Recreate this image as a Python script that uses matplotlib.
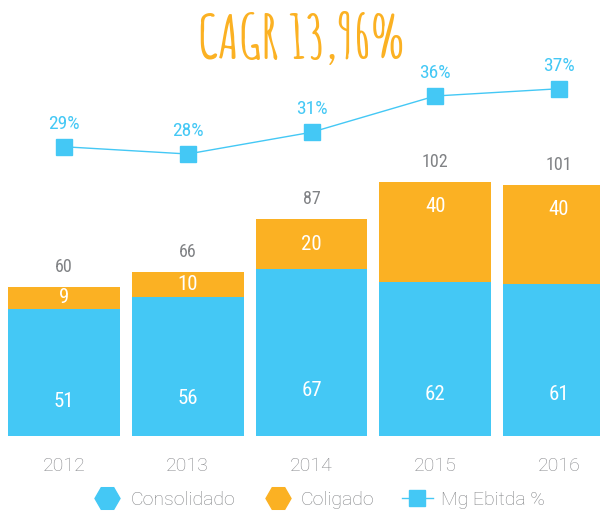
import matplotlib
matplotlib.use("Agg")
import matplotlib.pyplot as plt
from matplotlib.lines import Line2D
import numpy as np

years = ["2012", "2013", "2014", "2015", "2016"]
consolidado = [51, 56, 67, 62, 61]
coligado = [9, 10, 20, 40, 40]
totals = [60, 66, 87, 102, 101]
mg_ebitda = [29, 28, 31, 36, 37]
title = "CAGR 13,96%"

BLUE = "#44C8F5"
ORANGE = "#FBB123"
GREY = "#808285"

plt.rcParams['font.family'] = ['Roboto', 'DejaVu Sans']
COND = ['Roboto Condensed', 'Roboto', 'DejaVu Sans']

fig = plt.figure(figsize=(6, 5.12), dpi=100)
ax = fig.add_axes([0, 76/512, 1, 436/512])
x = np.arange(len(years))
w = 0.905
ax.bar(x, consolidado, w, color=BLUE, zorder=2)
ax.bar(x, coligado, w, bottom=consolidado, color=ORANGE, zorder=2)
ax.set_xlim(-64/123.75, (600-64)/123.75)
ax.set_ylim(0, 436/2.49)
for s in ax.spines.values():
    s.set_visible(False)
ax.set_yticks([])
ax.set_xticks(x)
ax.set_xticklabels(years, color="#85868a", fontsize=14, family=['Roboto', 'DejaVu Sans'], fontweight='light')
ax.tick_params(axis='x', length=0, pad=15)

for i in range(len(years)):
    c = consolidado[i]
    g = coligado[i]
    ax.text(x[i], c*0.27, str(c), ha='center', va='center', color='white', fontsize=15, zorder=3, family=COND)
    ax.text(x[i], c + g - min(g/2, 10), str(g), ha='center', va='center', color='white', fontsize=15, zorder=3, family=COND)
    ax.annotate(str(totals[i]), (x[i], c + g), xytext=(0, 20*0.72), textcoords='offset points',
                ha='center', va='center', color=GREY, fontsize=13, family=COND)

ax2 = ax.twinx()
ax2.set_ylim((357-436)/7.25, 357/7.25)
ax2.plot(x, mg_ebitda, color=BLUE, lw=1, marker='s', markersize=12, zorder=3)
for s in ax2.spines.values():
    s.set_visible(False)
ax2.set_yticks([])
for i in range(len(years)):
    ax2.annotate(f"{mg_ebitda[i]}%", (x[i], mg_ebitda[i]), xytext=(0, 23*0.72), textcoords='offset points',
                 ha='center', va='center', color=BLUE, fontsize=14, family=COND)

fig.text(0.503, 1 - 38/512, title, ha='center', va='center', color=ORANGE, fontsize=43,
         family=['Amatic SC', 'DejaVu Sans'], fontweight='bold')

handles = [
    Line2D([], [], ls='none', marker='H', markersize=18, color=BLUE, label='Consolidado'),
    Line2D([], [], ls='none', marker='H', markersize=18, color=ORANGE, label='Coligado'),
    Line2D([], [], color=BLUE, lw=1, marker='s', markersize=12, label='Mg Ebitda %'),
]
leg = fig.legend(handles=handles, loc='center', bbox_to_anchor=(0.53, 1 - 500/512), ncol=3,
                 frameon=False, handlelength=1.6, columnspacing=1.4, handletextpad=0.4,
                 prop={'family': ['Roboto', 'DejaVu Sans'], 'size': 14, 'weight': 'light'})
for t in leg.get_texts():
    t.set_color(GREY)

fig.savefig("out.png", dpi=100)
